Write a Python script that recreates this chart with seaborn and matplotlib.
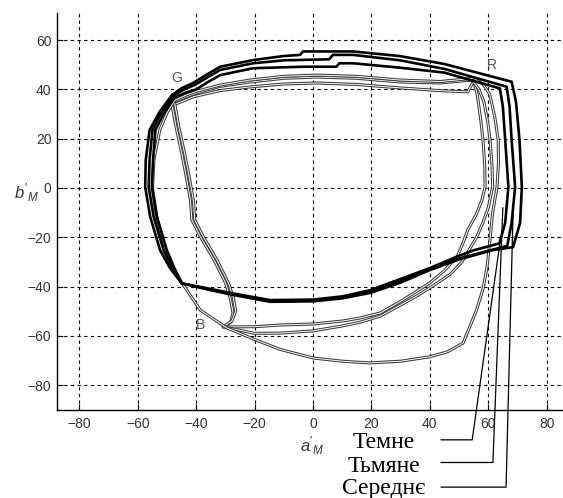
import matplotlib
matplotlib.use('Agg')
import matplotlib.pyplot as plt
import seaborn as sns
import pandas as pd

# Gamut outlines as (a'_M, b'_M) points, closed loops
thick_1 = [(-48.3, 37.7), (-45.0, 40.5), (-41.1, 42.6), (-36.0, 46.3), (-31.8, 49.2), (-20.5, 51.9), (-10.3, 53.5),
           (-4.5, 54.0), (-3.4, 55.4), (13.7, 55.4), (29.8, 53.5), (45.0, 50.3), (68.0, 43.1), (69.5, 35.0),
           (70.7, 19.5), (71.5, 0.5), (70.9, -14.2), (68.5, -24.0), (61.6, -25.2), (50.0, -29.0), (40.0, -33.3),
           (29.8, -38.5), (19.5, -42.6), (10.0, -44.8), (0.0, -46.0), (-14.7, -46.2), (-27.4, -43.4), (-35.0, -41.5),
           (-45.0, -38.7), (-49.0, -32.5), (-52.4, -25.2), (-55.8, -11.6), (-57.5, 0.5), (-57.3, 11.4), (-56.0, 23.5),
           (-52.5, 31.0), (-48.3, 37.7)]

thick_2 = [(-48.0, 37.2), (-44.5, 39.8), (-40.5, 41.8), (-36.0, 45.0), (-31.8, 47.9), (-20.5, 50.6), (-10.0, 51.8),
           (5.5, 52.2), (6.8, 54.0), (13.7, 54.0), (29.8, 51.8), (45.0, 48.3), (66.3, 41.1), (67.3, 33.0),
           (68.0, 19.5), (69.2, 0.5), (68.0, -14.2), (66.5, -23.5), (60.0, -25.5), (50.0, -28.6), (40.0, -33.0),
           (29.8, -38.0), (19.5, -42.2), (10.0, -44.5), (0.0, -45.7), (-14.7, -45.8), (-27.4, -43.1), (-35.0, -41.3),
           (-45.0, -38.7), (-48.2, -32.5), (-51.2, -25.2), (-54.6, -11.6), (-56.3, 0.5), (-56.0, 11.4), (-55.0, 23.5),
           (-51.8, 31.0), (-48.0, 37.2)]

thick_3 = [(-47.5, 36.5), (-44.0, 38.5), (-40.0, 40.0), (-36.0, 43.0), (-31.8, 45.8), (-20.5, 48.6), (-3.4, 49.2),
           (8.0, 49.2), (9.0, 50.6), (13.7, 50.6), (29.8, 48.8), (45.0, 46.8), (64.0, 40.4), (65.0, 33.0),
           (65.8, 19.5), (66.9, 0.5), (65.8, -14.2), (63.8, -22.5), (55.0, -25.3), (50.0, -27.5), (40.0, -32.5),
           (29.8, -37.0), (19.5, -41.5), (10.0, -44.0), (0.0, -45.3), (-14.7, -45.5), (-27.4, -42.8), (-35.0, -41.0),
           (-45.0, -38.7), (-47.5, -32.5), (-50.1, -25.2), (-53.5, -11.6), (-55.2, 0.5), (-54.8, 11.4), (-54.0, 23.5),
           (-51.0, 30.5), (-47.5, 36.5)]

thin_1 = [(-48.3, 33.5), (-44.0, 35.5), (-41.0, 37.0), (-32.0, 39.5), (-21.6, 41.0), (-10.0, 42.2), (1.4, 42.6),
          (15.0, 42.0), (29.8, 40.6), (43.5, 39.5), (53.0, 39.0), (55.0, 43.5), (56.2, 38.0), (57.4, 28.0),
          (58.2, 19.5), (58.8, 9.0), (58.9, 0.4), (57.8, -5.0), (55.8, -11.0), (53.0, -17.0), (51.3, -22.5),
          (49.3, -28.0), (45.0, -33.5), (40.0, -38.5), (35.0, -42.3), (30.0, -46.0), (23.0, -50.7), (16.0, -52.8),
          (10.0, -54.0), (0.0, -55.2), (-11.3, -55.6), (-20.0, -56.3), (-30.8, -56.4), (-28.2, -54.5), (-27.4, -50.7),
          (-28.3, -45.0), (-30.0, -38.5), (-34.0, -29.0), (-38.5, -20.0), (-41.5, -13.0), (-42.0, -5.0),
          (-43.5, 5.0), (-45.0, 14.2), (-46.8, 24.0), (-48.3, 33.5)]

thin_2 = [(-47.5, 35.0), (-43.5, 37.0), (-40.0, 38.5), (-32.0, 41.2), (-21.6, 43.0), (-10.0, 44.5), (1.4, 45.0),
          (15.0, 44.5), (29.8, 43.0), (43.5, 42.6), (54.5, 43.8), (56.8, 40.0), (58.5, 35.0), (59.8, 27.0),
          (60.6, 19.5), (61.3, 9.0), (61.5, 0.4), (60.0, -8.0), (58.2, -14.0), (56.0, -20.0), (51.0, -30.0),
          (47.0, -35.0), (42.0, -39.0), (36.0, -43.5), (30.0, -47.5), (23.0, -52.0), (16.0, -54.5), (10.0, -56.0),
          (0.0, -58.0), (-11.3, -58.9), (-20.0, -59.0), (-30.8, -56.4), (-27.8, -54.0), (-26.5, -50.0),
          (-27.3, -44.5), (-29.0, -38.5), (-33.0, -29.0), (-37.5, -20.0), (-40.5, -13.0), (-41.0, -5.0),
          (-42.5, 5.0), (-44.0, 14.0), (-46.0, 25.0), (-47.5, 35.0)]

thin_3 = [(-47.5, 35.5), (-43.5, 37.7), (-40.0, 39.2), (-32.0, 41.7), (-21.6, 43.8), (-10.0, 45.3), (1.4, 45.8),
          (15.0, 45.3), (29.8, 43.8), (43.5, 43.2), (55.0, 44.5), (58.3, 42.0), (60.5, 38.0), (62.2, 29.0),
          (63.4, 19.5), (63.5, 10.0), (63.0, 0.4), (61.5, -10.0), (60.6, -21.0), (59.6, -32.0), (58.2, -41.0),
          (56.0, -49.5), (51.4, -62.9), (46.0, -66.5), (40.0, -68.5), (30.0, -70.3), (19.5, -71.0), (10.0, -70.3),
          (0.0, -69.0), (-11.3, -65.5), (-20.0, -61.5), (-29.5, -56.8), (-38.7, -49.5), (-44.9, -38.5),
          (-48.2, -32.0), (-50.5, -25.0), (-53.5, -12.0), (-55.0, 0.0), (-54.5, 11.4), (-52.5, 23.5),
          (-50.0, 30.5), (-47.5, 35.5)]

# Primary markers
corner_names = ['G', 'R', 'B']
corner_a = [-46.6, 61.3, -38.7]
corner_b = [44.6, 49.9, -55.6]

# Callout labels and the points on the curves they point to
callout_names = ['Темне', 'Тьмяне', 'Середнє']
callout_text_b = [-105.5, -115.2, -124.2]
callout_elbow_a = [54.5, 61.6, 66.1]
callout_elbow_b = [-102.2, -111.4, -121.4]
callout_tip_a = [64.0, 65.0, 68.5]
callout_tip_b = [-22.3, -8.0, -9.7]

ticks_a = [-80, -60, -40, -20, 0, 20, 40, 60, 80]
ticks_b = [-80, -60, -40, -20, 0, 20, 40, 60]

sns.set_theme(style='white')
plt.rcParams['font.family'] = ['Liberation Sans', 'DejaVu Sans']
plt.rcParams['mathtext.fontset'] = 'custom'
plt.rcParams['mathtext.it'] = 'Liberation Sans:italic'
plt.rcParams['mathtext.rm'] = 'Liberation Sans'

fig = plt.figure(figsize=(5.63, 4.98), dpi=100)
ax = fig.add_axes([57 / 563, 88 / 498, 506 / 563, 397 / 498])


def to_frame(points):
    return pd.DataFrame(points, columns=['a', 'b'])


# thin outlines look hollow in the original: dark stroke with a white core
for loop in [thin_1, thin_2, thin_3]:
    df = to_frame(loop)
    sns.lineplot(data=df, x='a', y='b', sort=False, estimator=None, ax=ax, color='#3a3a3a', lw=2.2)
    sns.lineplot(data=df, x='a', y='b', sort=False, estimator=None, ax=ax, color='white', lw=0.7)

for loop in [thick_1, thick_2, thick_3]:
    df = to_frame(loop)
    sns.lineplot(data=df, x='a', y='b', sort=False, estimator=None, ax=ax, color='black', lw=1.9)

for name, a, b in zip(corner_names, corner_a, corner_b):
    ax.text(a, b, name, fontsize=10, color='#555555', ha='center', va='center')

# callouts below the axes
for name, tb, ea, eb, ta, tbb in zip(callout_names, callout_text_b, callout_elbow_a,
                                      callout_elbow_b, callout_tip_a, callout_tip_b):
    ax.text(24.3, tb, name, fontsize=17, family=['Liberation Serif', 'DejaVu Serif'],
            ha='center', va='baseline', color='black', clip_on=False)
    ax.plot([43.8, ea, ta], [eb, eb, tbb], color='black', lw=0.9, clip_on=False)

ax.set_xlim(-87.7, 85.6)
ax.set_ylim(-90.1, 71.0)
ax.set_xticks(ticks_a)
ax.set_yticks(ticks_b)
ax.set_xlabel('')
ax.set_ylabel('')

ax.grid(True, color='black', linestyle=(0, (3, 3)), linewidth=0.8)
ax.set_axisbelow(True)

for side in ['top', 'right']:
    ax.spines[side].set_visible(False)
for side in ['left', 'bottom']:
    ax.spines[side].set_color('black')
    ax.spines[side].set_linewidth(1.0)

ax.tick_params(bottom=True, left=True, direction='in', length=4, width=0.8,
               colors='black', labelcolor='#333333', labelsize=10)
ax.tick_params(axis='x', pad=5)
ax.tick_params(axis='y', pad=4)

ax.text(-0.3, -104.7, r"$a'_M$", fontsize=12, color='#333344', ha='center', va='center', clip_on=False)
ax.text(-98.3, -2.0, r"$b'_M$", fontsize=12, color='#333344', ha='center', va='center', clip_on=False)

fig.savefig('out.png', dpi=100)
